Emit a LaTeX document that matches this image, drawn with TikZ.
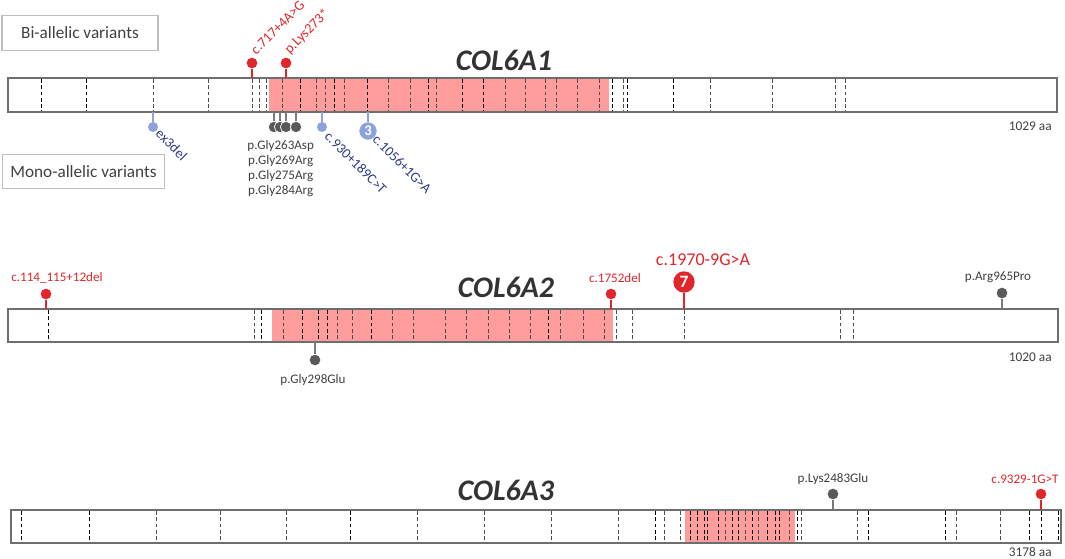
\documentclass[tikz,border=0pt]{standalone}
\usepackage{fontspec}
\setmainfont{Carlito}
\usetikzlibrary{positioning}
\definecolor{pinred}{HTML}{E0262B}
\definecolor{domainpink}{HTML}{FF9C9C}
\definecolor{pingray}{HTML}{595959}
\definecolor{pinblue}{HTML}{8EA2DA}
\definecolor{textblue}{HTML}{2E3A87}
\definecolor{textgray}{HTML}{404040}
\definecolor{bargray}{HTML}{6E6E6E}
\definecolor{titlegray}{HTML}{333333}
\definecolor{boxgray}{HTML}{BFBFBF}

\begin{document}
\begin{tikzpicture}[x=0.75pt, y=-0.75pt, font=\fontsize{9.8}{11}\selectfont,
    genebar/.style={draw=bargray, line width=1.1pt},
    exondark/.style={black, line width=0.75pt, dash pattern=on 2.8pt off 1.9pt},
    exonlight/.style={black!70, line width=0.6pt, dash pattern=on 2.8pt off 1.9pt},
    genetitle/.style={font=\fontsize{22.4}{26}\selectfont\bfseries\itshape, text=titlegray},
    legendbox/.style={draw=boxgray, line width=0.8pt, text=textgray, inner sep=0pt,
      font=\fontsize{12.9}{15}\selectfont},
    redpin/.style={circle, fill=pinred, inner sep=0pt, minimum size=8pt},
    graypin/.style={circle, fill=pingray, inner sep=0pt, minimum size=8pt},
    bluepin/.style={circle, fill=pinblue, inner sep=0pt, minimum size=7.5pt},
    stackpin/.style={circle, fill=pingray, draw=white, line width=0.5pt, inner sep=0pt, minimum size=8.5pt},
    redstem/.style={pinred, line width=0.9pt},
    graystem/.style={pingray!80, line width=0.9pt},
    bluestem/.style={pinblue, line width=0.9pt},
    redlabel/.style={text=pinred, inner sep=0pt},
    graylabel/.style={text=textgray, inner sep=0pt},
    bluelabel/.style={text=textblue, inner sep=0pt},
    lengthlabel/.style={text=textgray, anchor=east, inner sep=0pt, font=\fontsize{10}{12}\selectfont}]

    \useasboundingbox (0,0) rectangle (1065,558);

    % legend
    \node (biallelic) [legendbox, minimum width=117pt, minimum height=26pt] at (80,33)
      {Bi-allelic variants};
    \node (monoallelic) [legendbox, minimum width=122pt, minimum height=25pt] at (83.5,171.5)
      {Mono-allelic variants};

    % ---------------- COL6A1 ----------------
    \node (col6a1) [genetitle] at (504,60) {COL6A1};
    \fill [domainpink] (269,78) rectangle (609,112);
    \foreach \xpos/\dark in {41/1, 86/1, 153/0, 208/0, 252/0, 259/0, 266/0, 282/0, 300/1,
        316/0, 325/0, 334/1, 344/0, 367/1, 388/0, 410/0, 428/1, 436/0, 462/1, 483/1,
        505/0, 525/0, 545/0, 556/0, 577/0, 599/0, 612/1, 623/0, 627/1, 673/1, 710/0,
        772/0, 835/0, 845/0}
      {\ifnum\dark=1 \draw [exondark] (\xpos,79) -- (\xpos,111);
       \else \draw [exonlight] (\xpos,79) -- (\xpos,111); \fi}
    \draw [genebar] (8,78) rectangle (1057,112);
    \node (len1) [lengthlabel] at (1052,126) {1029 aa};

    % bi-allelic
    \coordinate (a1r1) at (252,78);
    \node (a1r1pin) [redpin] at (252,63) {};
    \draw [redstem] (a1r1pin) -- (a1r1);
    \node (a1r1txt) [redlabel, rotate=45, anchor=west, font=\fontsize{10.6}{12}\selectfont]
      at (253,52) {c.717+4A>G};
    \coordinate (a1r2) at (286,78);
    \node (a1r2pin) [redpin] at (286,63) {};
    \draw [redstem] (a1r2pin) -- (a1r2);
    \node (a1r2txt) [redlabel, rotate=45, anchor=west, font=\fontsize{10.6}{12}\selectfont]
      at (287,52) {p.Lys273*};

    % mono-allelic
    \coordinate (a1b1) at (153,112);
    \node (a1b1pin) [bluepin] at (153,127) {};
    \draw [bluestem] (a1b1) -- (a1b1pin);
    \node (a1b1txt) [bluelabel, rotate=-45, anchor=west, font=\fontsize{10.6}{12}\selectfont]
      at (158,131) {ex3del};
    \foreach \xpos [count=\i] in {274, 280, 286, 296}
      {\coordinate (a1g\i) at (\xpos,112);
       \draw [graystem] (a1g\i) -- (\xpos,124);}
    \foreach \xpos [count=\i] in {274, 280, 286, 296}
      {\node (a1g\i pin) [stackpin] at (\xpos,127) {};}
    \node (a1gtxt) [graylabel, align=center, font=\fontsize{9.8}{11.3}\selectfont,
      below=5pt of a1g3pin, xshift=-4pt] {p.Gly263Asp\\p.Gly269Arg\\p.Gly275Arg\\p.Gly284Arg};
    \coordinate (a1b2) at (322,112);
    \node (a1b2pin) [bluepin] at (322,127) {};
    \draw [bluestem] (a1b2) -- (a1b2pin);
    \node (a1b2txt) [bluelabel, rotate=-45, anchor=west, font=\fontsize{10.6}{12}\selectfont]
      at (327,134) {c.930+189C>T};
    \coordinate (a1b3) at (368,112);
    \node (a1b3pin) [circle, fill=pinblue, inner sep=0pt, minimum size=13pt, text=white,
      font=\fontsize{11}{12}\selectfont\bfseries] at (368,131) {3};
    \draw [bluestem] (a1b3) -- (a1b3pin);
    \node (a1b3txt) [bluelabel, rotate=-45, anchor=west, font=\fontsize{10.6}{12}\selectfont]
      at (375,137) {c.1056+1G>A};

    % ---------------- COL6A2 ----------------
    \node (col6a2) [genetitle] at (506,287) {COL6A2};
    \fill [domainpink] (272,309) rectangle (613,342);
    \foreach \xpos/\dark in {48/1, 254/0, 261/1, 283/0, 302/1, 318/1, 327/1, 337/0, 352/0,
        371/1, 392/0, 413/0, 445/0, 466/0, 488/0, 509/0, 530/0, 548/1, 560/0, 583/0,
        604/0, 616/0, 632/0, 684/0, 840/0, 853/0}
      {\ifnum\dark=1 \draw [exondark] (\xpos,310) -- (\xpos,341);
       \else \draw [exonlight] (\xpos,310) -- (\xpos,341); \fi}
    \draw [genebar] (8,309) rectangle (1058,342);
    \node (len2) [lengthlabel] at (1052,357) {1020 aa};

    \coordinate (a2r1) at (46,309);
    \node (a2r1pin) [redpin] at (46,294) {};
    \draw [redstem] (a2r1pin) -- (a2r1);
    \node (a2r1txt) [redlabel] at (57,278) {c.114\_115+12del};
    \coordinate (a2r2) at (611,309);
    \node (a2r2pin) [redpin] at (611,294) {};
    \draw [redstem] (a2r2pin) -- (a2r2);
    \node (a2r2txt) [redlabel] at (615,278) {c.1752del};
    \coordinate (a2r3) at (684,309);
    \node (a2r3pin) [circle, fill=pinred, inner sep=0pt, minimum size=16pt, text=white,
      font=\fontsize{13}{14}\selectfont\bfseries] at (684,282) {7};
    \draw [redstem] (a2r3pin) -- (a2r3);
    \node (a2r3txt) [redlabel, font=\fontsize{13.5}{15}\selectfont] at (703,260) {c.1970-9G>A};
    \coordinate (a2g1) at (1002,309);
    \node (a2g1pin) [graypin] at (1002,293) {};
    \draw [graystem] (a2g1pin) -- (a2g1);
    \node (a2g1txt) [graylabel] at (998,277) {p.Arg965Pro};
    \coordinate (a2g2) at (315,342);
    \node (a2g2pin) [graypin] at (315,360) {};
    \draw [graystem] (a2g2) -- (a2g2pin);
    \node (a2g2txt) [graylabel] at (313,380) {p.Gly298Glu};

    % ---------------- COL6A3 ----------------
    \node (col6a3) [genetitle] at (506,490) {COL6A3};
    \fill [domainpink] (685,510) rectangle (795,543);
    \foreach \xpos/\dark in {21/1, 89/1, 156/0, 220/0, 286/0, 350/1, 417/0, 484/0, 551/0,
        618/0, 655/1, 664/0, 680/0, 690/1, 697/1, 704/1, 707/1, 718/1, 725/0, 732/1,
        738/1, 745/0, 752/1, 758/0, 767/1, 775/1, 779/1, 789/0, 797/1, 801/0, 857/0,
        868/1, 945/1, 956/0, 1000/0, 1029/1, 1041/1, 1058/1}
      {\ifnum\dark=1 \draw [exondark] (\xpos,511) -- (\xpos,542);
       \else \draw [exonlight] (\xpos,511) -- (\xpos,542); \fi}
    \draw [genebar] (11,510) rectangle (1061,543);
    \node (len3) [lengthlabel] at (1052,552) {3178 aa};

    \coordinate (a3g1) at (833,510);
    \node (a3g1pin) [graypin] at (833,494) {};
    \draw [graystem] (a3g1pin) -- (a3g1);
    \node (a3g1txt) [graylabel] at (833,479) {p.Lys2483Glu};
    \coordinate (a3r1) at (1041,510);
    \node (a3r1pin) [redpin] at (1041,494) {};
    \draw [redstem] (a3r1pin) -- (a3r1);
    \node (a3r1txt) [redlabel] at (1025,479) {c.9329-1G>T};
\end{tikzpicture}
\end{document}
